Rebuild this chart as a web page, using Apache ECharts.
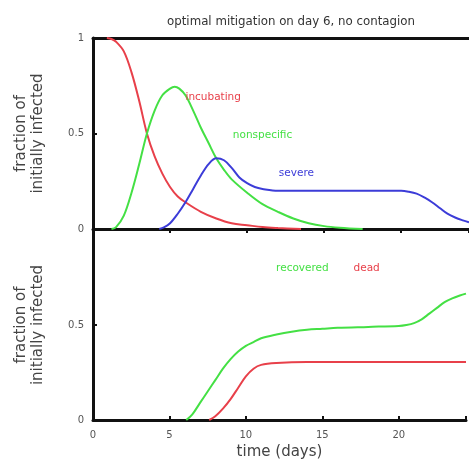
<!DOCTYPE html>
<html>
<head>
<meta charset="utf-8">
<script src="https://cdn.jsdelivr.net/npm/echarts@6/dist/echarts.min.js"></script>
<style>
  html, body { margin: 0; padding: 0; background: #fff; }
  #chart { width: 469px; height: 464px; }
</style>
</head>
<body>
<div id="chart"></div>
<script>
// top panel
const incDays = [0.9, 1.2, 1.5, 2, 2.5, 3, 3.5, 4, 4.5, 5, 5.5, 6, 7, 8, 9, 10, 11, 12, 13.5]
const incVals = [1, 0.995, 0.98, 0.93, 0.82, 0.67, 0.5, 0.38, 0.29, 0.22, 0.17, 0.14, 0.09, 0.055, 0.03, 0.02, 0.01, 0.005, 0]

const nonDays = [1.2, 1.5, 2, 2.5, 3, 3.5, 4, 4.5, 5, 5.3, 5.6, 6, 6.5, 7, 7.5, 8, 8.5, 9, 10, 11, 12, 13, 14, 15, 16, 17.5]
const nonVals = [0, 0.01, 0.07, 0.19, 0.34, 0.5, 0.62, 0.7, 0.735, 0.745, 0.735, 0.7, 0.62, 0.53, 0.45, 0.37, 0.31, 0.26, 0.19, 0.13, 0.09, 0.055, 0.03, 0.015, 0.007, 0]

const sevDays = [4.3, 4.6, 5, 5.5, 6, 6.5, 7, 7.5, 8, 8.5, 9, 9.5, 10, 10.5, 11, 12, 14, 16, 18, 20, 20.5, 21, 21.5, 22, 22.5, 23, 23.5, 24, 24.4]
const sevVals = [0, 0.008, 0.03, 0.08, 0.14, 0.21, 0.28, 0.34, 0.37, 0.36, 0.32, 0.27, 0.24, 0.22, 0.21, 0.2, 0.2, 0.2, 0.2, 0.2, 0.195, 0.185, 0.165, 0.14, 0.11, 0.08, 0.06, 0.045, 0.035]

// bottom panel
const recDays = [6.1, 6.5, 7, 7.5, 8, 8.5, 9, 9.5, 10, 10.5, 11, 12, 13, 14, 15, 16, 18, 20, 20.5, 21, 21.5, 22, 22.5, 23, 23.5, 24, 24.4]
const recVals = [0, 0.03, 0.09, 0.15, 0.21, 0.27, 0.32, 0.36, 0.39, 0.41, 0.43, 0.45, 0.465, 0.475, 0.48, 0.485, 0.49, 0.495, 0.5, 0.51, 0.53, 0.56, 0.59, 0.62, 0.64, 0.655, 0.665]

const deadDays = [7.6, 8, 8.5, 9, 9.5, 10, 10.5, 11, 12, 14, 24.4]
const deadVals = [0, 0.02, 0.06, 0.11, 0.17, 0.23, 0.27, 0.29, 0.3, 0.305, 0.305]

const xTicks = [0, 5, 10, 15, 20]
const yTicks = [0, 0.5, 1]

const RED = '#e8404a', GREEN = '#44e044', BLUE = '#3c3cd8'
const pairs = (xs, ys) => xs.map((x, i) => [x, ys[i]])

function lineSeries(name, xs, ys, color, idx, lbl) {
  return {
    name: name, type: 'line', smooth: 0.35, showSymbol: false, silent: true,
    xAxisIndex: idx, yAxisIndex: idx,
    lineStyle: { color: color, width: 2 },
    data: pairs(xs, ys),
    markPoint: {
      symbol: 'circle', symbolSize: 0, silent: true,
      label: { show: true, formatter: name, color: color, fontSize: 10.5, fontFamily: 'DejaVu Sans' },
      data: [{ coord: lbl }]
    }
  }
}

const labelStyle = { color: '#555', fontSize: 10, fontFamily: 'DejaVu Sans' }
const nameStyle = { color: '#444', fontSize: 15, fontFamily: 'DejaVu Sans', lineHeight: 17 }
const blackLine = { show: true, lineStyle: { color: '#111', width: 3 } }

let myChart = echarts.init(document.getElementById('chart'))
myChart.setOption({
  animation: false,
  title: {
    text: 'optimal mitigation on day 6, no contagion',
    left: 286, top: 11, textAlign: 'center',
    textStyle: { fontSize: 11.8, fontWeight: 'normal', color: '#333', fontFamily: 'DejaVu Sans' }
  },
  grid: [
    { left: 93, right: 0, top: 38, height: 191 },
    { left: 93, right: 0, top: 230, height: 190 }
  ],
  xAxis: [
    {
      type: 'value', gridIndex: 0, min: 0, max: 24.4, interval: 5,
      axisLine: blackLine,
      axisTick: { show: true, inside: false, length: 4, lineStyle: { color: '#111', width: 2 } },
      axisLabel: { show: false }, splitLine: { show: false }
    },
    {
      type: 'value', gridIndex: 1, min: 0, max: 24.4, interval: 5,
      axisLine: blackLine,
      axisTick: { show: true, inside: true, length: 4, lineStyle: { color: '#111', width: 2 } },
      axisLabel: Object.assign({ margin: 10, formatter: v => xTicks.includes(v) ? String(v) : '' }, labelStyle),
      splitLine: { show: false },
      name: 'time (days)', nameLocation: 'middle', nameGap: 24, nameTextStyle: nameStyle
    },
    {
      type: 'value', gridIndex: 0, position: 'top', min: 0, max: 24.4,
      axisLine: blackLine, axisTick: { show: false }, axisLabel: { show: false }, splitLine: { show: false }
    }
  ],
  yAxis: [
    {
      type: 'value', gridIndex: 0, min: 0, max: 1, interval: 0.5,
      axisLine: blackLine,
      axisTick: { show: true, inside: true, length: 4, lineStyle: { color: '#111', width: 2 } },
      axisLabel: Object.assign({ margin: 9, formatter: v => yTicks.includes(v) ? String(v) : '' }, labelStyle),
      splitLine: { show: false },
      name: 'fraction of\ninitially infected', nameLocation: 'middle', nameGap: 46, nameTextStyle: nameStyle
    },
    {
      type: 'value', gridIndex: 1, min: 0, max: 1, interval: 0.5,
      axisLine: blackLine,
      axisTick: { show: true, inside: true, length: 4, lineStyle: { color: '#111', width: 2 } },
      axisLabel: Object.assign({ margin: 9, formatter: v => v === 1 ? '' : String(v) }, labelStyle),
      splitLine: { show: false },
      name: 'fraction of\ninitially infected', nameLocation: 'middle', nameGap: 46, nameTextStyle: nameStyle
    }
  ],
  series: [
    lineSeries('incubating', incDays, incVals, RED, 0, [7.8, 0.69]),
    lineSeries('nonspecific', nonDays, nonVals, GREEN, 0, [11.0, 0.49]),
    lineSeries('severe', sevDays, sevVals, BLUE, 0, [13.2, 0.29]),
    lineSeries('recovered', recDays, recVals, GREEN, 1, [13.7, 0.8]),
    lineSeries('dead', deadDays, deadVals, RED, 1, [17.9, 0.8])
  ]
})
</script>
</body>
</html>
